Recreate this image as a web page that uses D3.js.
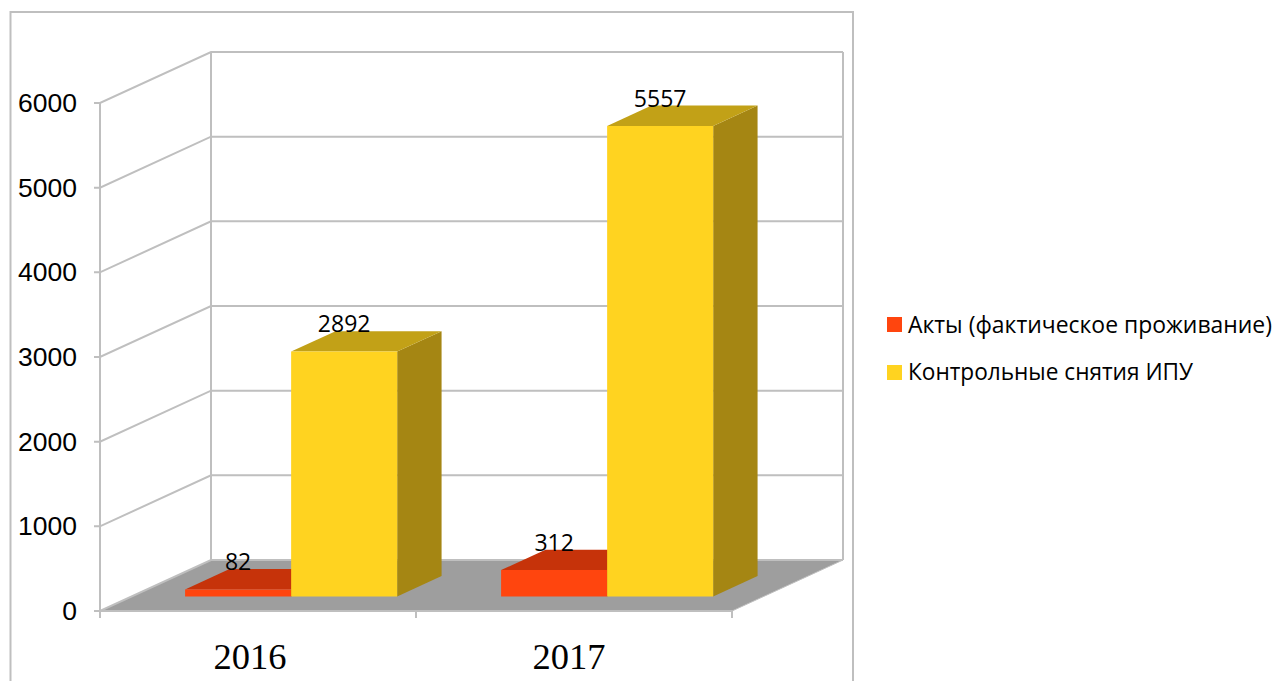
<!DOCTYPE html>
<html><head><meta charset="utf-8">
<script src="https://cdn.jsdelivr.net/npm/d3@7"></script>
<style>html,body{margin:0;padding:0;background:#fff;overflow:hidden}svg{display:block}</style>
</head><body>
<svg id="c" width="1279" height="681"></svg>
<script>
const years = ["2016", "2017"];
const seriesNames = ["Акты (фактическое проживание)", "Контрольные снятия ИПУ"];
const akty = [82, 312];
const snyatiya = [2892, 5557];
const ticks = [0, 1000, 2000, 3000, 4000, 5000, 6000];
const faceColors = ["#FF450E", "#FFD320"];
const topColors = ["#C6330A", "#C2A117"];
const sideColors = ["#A52C08", "#A58613"];
const GRID = "#BFBFBF";

const svg = d3.select("#c");
const left = 100, floorY = 611, depthX = 111, depthY = 51;
const xBand = d3.scaleBand().domain(years).range([0, 632]);
const xInner = d3.scaleBand().domain(seriesNames).range([1.5, xBand.bandwidth() + 1.5]).paddingInner(0).paddingOuter(0.49);
const y = d3.scaleLinear().domain([0, 6000]).range([0, 508]);
const X = (x, d) => left + x + depthX * d;
const Y = (v, d) => floorY - y(v) - depthY * d;
const pts = a => a.map(p => p.join(",")).join(" ");

// frame
svg.append("rect").attr("x", 10.5).attr("y", 12).attr("width", 842.5).attr("height", 680)
  .attr("fill", "#fff").attr("stroke", GRID).attr("stroke-width", 2);

// floor
svg.append("polygon").attr("fill", "#9E9E9E")
  .attr("points", pts([[X(0,0),Y(0,0)],[X(632,0),Y(0,0)],[X(632,1),Y(0,1)],[X(0,1),Y(0,1)]]));

// walls and gridlines
const g = svg.append("g").attr("fill", "none").attr("stroke", GRID).attr("stroke-width", 2);
g.selectAll(".w").data(ticks).join("polyline")
  .attr("points", t => pts([[X(0,0)-6,Y(t,0)],[X(0,0),Y(t,0)],[X(0,1),Y(t,1)],[X(632,1),Y(t,1)]]));
g.append("line").attr("x1", X(0,0)).attr("x2", X(0,0)).attr("y1", Y(0,0)+7).attr("y2", Y(6000,0));
g.append("line").attr("x1", X(0,1)).attr("x2", X(0,1)).attr("y1", Y(0,1)).attr("y2", Y(6000,1));
g.append("line").attr("x1", X(632,1)).attr("x2", X(632,1)).attr("y1", Y(0,1)).attr("y2", Y(6000,1));
g.append("line").attr("x1", X(0,0)).attr("x2", X(632,0)).attr("y1", Y(0,0)).attr("y2", Y(0,0));
g.append("line").attr("x1", X(632,0)).attr("x2", X(632,1)).attr("y1", Y(0,0)).attr("y2", Y(0,1)).attr("stroke-width", 1);
g.selectAll(".t").data(d3.range(years.length + 1)).join("line")
  .attr("x1", i => X(i * xBand.bandwidth(),0)).attr("x2", i => X(i * xBand.bandwidth(),0))
  .attr("y1", Y(0,0)).attr("y2", Y(0,0)+7);

// axis labels
svg.selectAll(".yl").data(ticks).join("text")
  .attr("x", 77).attr("y", t => Y(t,0)+9).attr("text-anchor", "end")
  .attr("font-family", "Liberation Sans").attr("font-size", 26.5).attr("fill", "#000").text(t => t);
const labelShift = [-8, -5];
svg.selectAll(".xl").data(years).join("text")
  .attr("x", (d,i) => X(xBand(d) + xBand.bandwidth()/2 + labelShift[i], 0)).attr("y", 669).attr("text-anchor", "middle")
  .attr("font-family", "Liberation Serif").attr("font-size", 36.5).attr("fill", "#000").text(d => d);

// bars
const d0 = 0.285, d1 = 0.685;
const rows = [];
years.forEach((yr, i) => {
  [akty, snyatiya].forEach((arr, s) => rows.push({yr, s, v: arr[i]}));
});
const bars = svg.selectAll(".bar").data(rows).join("g");
const x0 = r => xBand(r.yr) + xInner(seriesNames[r.s]);
const x1 = r => x0(r) + xInner.bandwidth();
bars.append("polygon").attr("fill", r => sideColors[r.s])
  .attr("points", r => pts([[X(x1(r),d0),Y(0,d0)],[X(x1(r),d1),Y(0,d1)],[X(x1(r),d1),Y(r.v,d1)],[X(x1(r),d0),Y(r.v,d0)]]));
bars.append("polygon").attr("fill", r => topColors[r.s])
  .attr("points", r => pts([[X(x0(r),d0),Y(r.v,d0)],[X(x1(r),d0),Y(r.v,d0)],[X(x1(r),d1),Y(r.v,d1)],[X(x0(r),d1),Y(r.v,d1)]]));
bars.append("polygon").attr("fill", r => faceColors[r.s])
  .attr("points", r => pts([[X(x0(r),d0),Y(r.v,d0)],[X(x1(r),d0),Y(r.v,d0)],[X(x1(r),d0),Y(0,d0)],[X(x0(r),d0),Y(0,d0)]]));

// value labels
svg.selectAll(".vl").data(rows).join("text")
  .attr("x", r => X((x0(r)+x1(r))/2, d0)).attr("y", r => Y(r.v,d1)+1).attr("text-anchor", "middle")
  .attr("font-family", "Open Sans").attr("font-size", 23).attr("fill", "#000").text(r => r.v);

// legend
const leg = svg.selectAll(".lg").data(seriesNames).join("g")
  .attr("transform", (d,i) => `translate(887,${317 + i*48})`);
leg.append("rect").attr("width", 15).attr("height", 15).attr("fill", (d,i) => faceColors[i]);
leg.append("text").attr("x", 21).attr("y", (d,i) => [15.5, 14.5][i]).attr("font-family", "Open Sans").attr("font-size", 23)
  .attr("fill", "#000").attr("textLength", (d,i) => [364, 285][i]).attr("lengthAdjust", "spacingAndGlyphs").text(d => d);
</script>
</body></html>
